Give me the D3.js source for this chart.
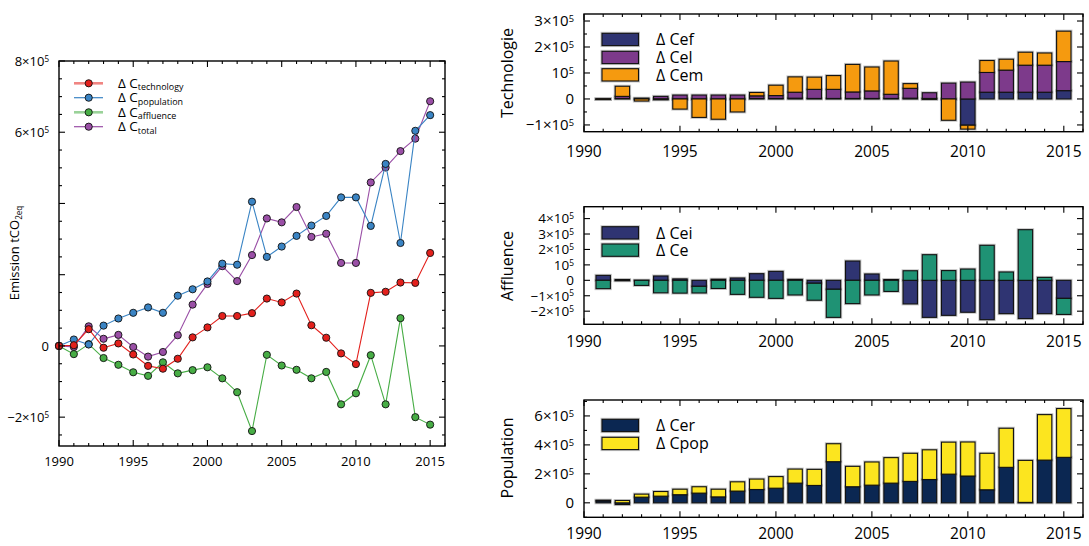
<!DOCTYPE html>
<html>
<head>
<meta charset="utf-8">
<script src="https://cdn.jsdelivr.net/npm/d3@7"></script>
<style>
  html, body { margin: 0; padding: 0; background: #fff; }
  svg { display: block; font-family: "Open Sans", "Noto Sans", sans-serif; }
</style>
</head>
<body>
<svg id="chart" width="1089" height="546"></svg>
<script>
// ---------------- DATA ----------------
const lineYears = d3.range(1990, 2016);
const barYears = d3.range(1991, 2016);

const techLine  = [0, 2e3, 47e3, -5e3, 7e3, -24e3, -56e3, -64e3, -36e3, 24e3, 52e3, 84e3, 84e3, 92e3, 133e3, 122e3, 147e3, 58e3, 23e3, -21e3, -51e3, 149e3, 152e3, 178e3, 177e3, 261e3];
const popLine   = [0, 18e3, 4e3, 57e3, 77e3, 93e3, 108e3, 93e3, 141e3, 159e3, 181e3, 231e3, 228e3, 405e3, 250e3, 279e3, 309e3, 338e3, 365e3, 417e3, 417e3, 337e3, 511e3, 289e3, 604e3, 648e3];
const affLine   = [0, -23e3, 5e3, -34e3, -53e3, -74e3, -84e3, -46e3, -77e3, -68e3, -60e3, -91e3, -130e3, -239e3, -25e3, -55e3, -67e3, -91e3, -73e3, -164e3, -133e3, -26e3, -164e3, 78e3, -200e3, -221e3];
const totalLine = [0, -3e3, 55e3, 20e3, 31e3, -3e3, -30e3, -17e3, 30e3, 116e3, 174e3, 224e3, 182e3, 255e3, 358e3, 347e3, 390e3, 306e3, 315e3, 233e3, 233e3, 459e3, 501e3, 547e3, 582e3, 687e3];

const lineNames = ["technology", "population", "affluence", "total"];
const lineColors = ["#e3201c", "#3a84c4", "#47ad45", "#9a4fa6"];

// Technology components (1991..2015)
const cef = [0, 2e3, 0, -3e3, 0, 0, 0, 0, 2e3, 2e3, 3e3, 2e3, 2e3, 2e3, 2e3, 2e3, 3e3, 2e3, 0, -101e3, 26e3, 26e3, 26e3, 26e3, 32e3];
const cel = [0, 8e3, 3e3, 10e3, 15e3, 15e3, 15e3, 15e3, 10e3, 11e3, 23e3, 35e3, 35e3, 25e3, 29e3, 16e3, 38e3, 22e3, 61e3, 65e3, 76e3, 85e3, 104e3, 104e3, 112e3];
const cem = [0, 39e3, -8e3, 0, -39e3, -71e3, -78e3, -50e3, 13e3, 40e3, 59e3, 47e3, 53e3, 106e3, 92e3, 128e3, 18e3, 0, -82e3, -15e3, 46e3, 42e3, 50e3, 47e3, 117e3];

// Affluence components
const cei = [32e3, 5e3, 0, 28e3, 9e3, -39e3, 7e3, 15e3, 43e3, 58e3, 6e3, -19e3, -58e3, 125e3, 41e3, 5e3, -153e3, -240e3, -227e3, -207e3, -255e3, -216e3, -248e3, -216e3, -117e3];
const ce  = [-54e3, -1e3, -33e3, -81e3, -83e3, -43e3, -53e3, -91e3, -110e3, -117e3, -95e3, -110e3, -182e3, -151e3, -95e3, -72e3, 62e3, 166e3, 63e3, 73e3, 227e3, 54e3, 328e3, 19e3, -104e3];

// Population components
const cer  = [13e3, -12e3, 39e3, 46e3, 56e3, 67e3, 41e3, 81e3, 92e3, 101e3, 136e3, 120e3, 284e3, 111e3, 122e3, 136e3, 148e3, 161e3, 198e3, 185e3, 90e3, 245e3, 3e3, 295e3, 314e3];
const cpop = [5e3, 16e3, 21e3, 32e3, 38e3, 44e3, 53e3, 64e3, 72e3, 80e3, 97e3, 111e3, 124e3, 141e3, 160e3, 176e3, 194e3, 205e3, 221e3, 235e3, 252e3, 270e3, 290e3, 314e3, 337e3];

const xTickLabels = [1990, 1995, 2000, 2005, 2010, 2015];

// ---------------- HELPERS ----------------
const svg = d3.select("#chart");

function sciLabel(sel, v) {
  sel.text(null);
  if (v === 0) { sel.text("0"); return; }
  const e = Math.floor(Math.log10(Math.abs(v)) + 1e-9);
  const m = Math.round(v / Math.pow(10, e));
  let base;
  if (m === 1) base = "10";
  else base = (m < 0 ? "\u2212" + Math.abs(m) : m) + "\u00d710";
  sel.append("tspan").text(base);
  sel.append("tspan").attr("dy", "-0.5em").attr("font-size", "0.62em").text(e);
}

function frame(g, x0, x1, y0, y1) {
  g.append("rect").attr("x", x0).attr("y", y0).attr("width", x1 - x0).attr("height", y1 - y0)
    .attr("fill", "none").attr("stroke", "#000").attr("stroke-width", 1.4);
}

function xTicks(g, x, yTop, yBot, labelY, fs) {
  const [d0, d1] = x.domain();
  for (let yr = Math.ceil(d0); yr <= d1; yr++) {
    const len = yr % 5 === 0 ? 6 : 3;
    const px = x(yr);
    g.append("line").attr("x1", px).attr("x2", px).attr("y1", yBot).attr("y2", yBot - len).attr("stroke", "#000").attr("stroke-width", 1.1);
    g.append("line").attr("x1", px).attr("x2", px).attr("y1", yTop).attr("y2", yTop + len).attr("stroke", "#000").attr("stroke-width", 1.1);
  }
  xTickLabels.forEach(t => {
    g.append("text").attr("x", x(t)).attr("y", labelY).attr("text-anchor", "middle")
      .attr("dominant-baseline", "middle").attr("font-size", fs).text(t);
  });
}

function yTicks(g, y, xLeft, xRight, majors, minors, labels, fs) {
  majors.forEach(v => {
    const py = y(v);
    g.append("line").attr("x1", xLeft).attr("x2", xLeft + 6).attr("y1", py).attr("y2", py).attr("stroke", "#000").attr("stroke-width", 1.1);
    g.append("line").attr("x1", xRight).attr("x2", xRight - 6).attr("y1", py).attr("y2", py).attr("stroke", "#000").attr("stroke-width", 1.1);
  });
  minors.forEach(v => {
    const py = y(v);
    g.append("line").attr("x1", xLeft).attr("x2", xLeft + 3).attr("y1", py).attr("y2", py).attr("stroke", "#000").attr("stroke-width", 1.1);
    g.append("line").attr("x1", xRight).attr("x2", xRight - 3).attr("y1", py).attr("y2", py).attr("stroke", "#000").attr("stroke-width", 1.1);
  });
  labels.forEach(v => {
    g.append("text").attr("x", xLeft - 10).attr("y", y(v) + fs * 0.36).attr("text-anchor", "end")
      .attr("font-size", fs).call(sciLabel, v);
  });
}

// ---------------- LEFT LINE CHART ----------------
const L = { x0: 59, x1: 445, y0: 61, y1: 446 };
const xL = d3.scaleLinear().domain([1990, 2016]).range([L.x0, L.x1]);
const yL = d3.scaleLinear().domain([-2.81e5, 8e5]).range([L.y1, L.y0]);
const gL = svg.append("g");

const lineSeries = [techLine, popLine, affLine, totalLine];
const lineGen = d3.line().x((d, i) => xL(lineYears[i])).y(d => yL(d));
// draw in reverse so technology ends on top
[3, 2, 1, 0].forEach(k => {
  const s = gL.append("g");
  s.append("path").datum(lineSeries[k]).attr("d", lineGen).attr("fill", "none")
    .attr("stroke", lineColors[k]).attr("stroke-width", 1.1);
  s.selectAll("circle").data(lineSeries[k]).join("circle")
    .attr("cx", (d, i) => xL(lineYears[i])).attr("cy", d => yL(d)).attr("r", 3.6)
    .attr("fill", lineColors[k]).attr("stroke", "#111").attr("stroke-width", 0.9);
});

frame(gL, L.x0, L.x1, L.y0, L.y1);
xTicks(gL, xL, L.y0, L.y1, 463, 13);
const majL = d3.range(-2e5, 8e5 + 1, 2e5);
const minL = d3.range(-2.5e5, 8e5, 0.5e5).filter(v => Math.abs(v % 2e5) > 1);
yTicks(gL, yL, L.x0, L.x1, majL, minL, [8e5, 6e5, 0, -2e5], 13);

// y title
gL.append("text").attr("transform", "translate(19,253) rotate(-90)").attr("text-anchor", "middle")
  .attr("font-size", 13)
  .call(t => {
    t.append("tspan").text("Emission tCO");
    t.append("tspan").attr("dy", "0.35em").attr("font-size", "0.62em").text("2eq");
  });

// legend
const legRows = [83.3, 97.7, 112.3, 126.7];
lineNames.forEach((n, k) => {
  const ly = legRows[k];
  const faded = (k === 0 || k === 2);
  gL.append("line").attr("x1", 74).attr("x2", 103).attr("y1", ly).attr("y2", ly)
    .attr("stroke", lineColors[k]).attr("stroke-width", faded ? 2.6 : 1.2).attr("stroke-opacity", faded ? 0.55 : 1);
  gL.append("circle").attr("cx", 88.7).attr("cy", ly).attr("r", 3.6)
    .attr("fill", lineColors[k]).attr("stroke", "#111").attr("stroke-width", 0.9);
  gL.append("text").attr("x", 118).attr("y", ly + 4.5).attr("font-size", 13.5)
    .call(t => {
      t.append("tspan").text("\u0394 C");
      t.append("tspan").attr("dy", "0.3em").attr("font-size", "0.66em").text(n);
    });
});

// ---------------- RIGHT BAR PANELS ----------------
const xR = d3.scaleLinear().domain([1990, 2016]).range([584, 1083]);
const bw = (xR(1991) - xR(1990)) * 0.75;

function barPanel(cfg) {
  const g = svg.append("g");
  const y = d3.scaleLinear().domain(cfg.domain).range([cfg.y1, cfg.y0]);
  const rows = barYears.map((yr, i) => {
    const o = { year: yr };
    cfg.keys.forEach((k, j) => o[k] = cfg.values[j][i]);
    return o;
  });
  const stack = d3.stack().keys(cfg.keys).offset(d3.stackOffsetDiverging).order(d3.stackOrderNone);
  const layers = stack(rows);
  const hgt = d => Math.max(0.4, Math.abs(y(d[0]) - y(d[1])));
  layers.forEach((layer) => {
    g.append("g").selectAll("rect").data(layer).join("rect")
      .attr("x", d => xR(d.data.year) - bw / 2)
      .attr("y", d => y(Math.max(d[0], d[1])))
      .attr("width", bw)
      .attr("height", hgt)
      .attr("fill", "none").attr("stroke", "#999").attr("stroke-width", 3).attr("stroke-opacity", 0.55);
  });
  layers.forEach((layer, j) => {
    g.append("g").selectAll("rect").data(layer).join("rect")
      .attr("x", d => xR(d.data.year) - bw / 2)
      .attr("y", d => y(Math.max(d[0], d[1])))
      .attr("width", bw)
      .attr("height", hgt)
      .attr("fill", cfg.colors[j]).attr("stroke", "#111").attr("stroke-width", 1.1);
  });
  frame(g, 584, 1083, cfg.y0, cfg.y1);
  xTicks(g, xR, cfg.y0, cfg.y1, cfg.labelY, 15.5);
  yTicks(g, y, 584, 1083, cfg.majors, cfg.minors, cfg.labels, cfg.yfs || 15);
  g.append("text").attr("transform", `translate(513,${cfg.titleY}) rotate(-90)`).attr("text-anchor", "middle")
    .attr("font-size", 16).text(cfg.title);
  // legend
  cfg.legendNames.forEach((n, j) => {
    const ry = cfg.legY[j];
    g.append("rect").attr("x", 602).attr("y", ry).attr("width", 36.5).attr("height", 12.3)
      .attr("fill", "none").attr("stroke", "#999").attr("stroke-width", 3).attr("stroke-opacity", 0.55);
    g.append("rect").attr("x", 602).attr("y", ry).attr("width", 36.5).attr("height", 12.3)
      .attr("fill", cfg.colors[j]).attr("stroke", "#111").attr("stroke-width", 1.1);
    g.append("text").attr("x", 656).attr("y", ry + 12).attr("font-size", 16).text("\u0394 " + n);
  });
}

barPanel({
  title: "Technologie", titleY: 73,
  keys: ["cef", "cel", "cem"], values: [cef, cel, cem],
  colors: ["#2f3472", "#7d3a8b", "#f59a0f"],
  legendNames: ["Cef", "Cel", "Cem"], legY: [33.3, 51.3, 68.7],
  domain: [-1.26e5, 3.27e5], y0: 14, y1: 131.7, labelY: 153,
  majors: [-1e5, 0, 1e5, 2e5, 3e5], minors: [-0.5e5, 0.5e5, 1.5e5, 2.5e5],
  labels: [3e5, 2e5, 1e5, 0, -1e5]
});

barPanel({
  title: "Affluence", titleY: 266,
  keys: ["cei", "ce"], values: [cei, ce],
  colors: ["#2f3472", "#1f9274"],
  legendNames: ["Cei", "Ce"], legY: [226.7, 244],
  domain: [-2.85e5, 4.77e5], y0: 206.7, y1: 324.3, labelY: 343,
  majors: [-2e5, -1e5, 0, 1e5, 2e5, 3e5, 4e5], minors: [],
  labels: [4e5, 3e5, 2e5, 1e5, 0, -1e5, -2e5], yfs: 13.5
});

barPanel({
  title: "Population", titleY: 458,
  keys: ["cer", "cpop"], values: [cer, cpop],
  colors: ["#0b2752", "#fce51f"],
  legendNames: ["Cer", "Cpop"], legY: [419.3, 437.3],
  domain: [-1.0e5, 7.1e5], y0: 400, y1: 517.3, labelY: 535,
  majors: [0, 2e5, 4e5, 6e5], minors: [-1e5, 1e5, 3e5, 5e5, 7e5],
  labels: [6e5, 4e5, 2e5, 0]
});
</script>
</body>
</html>
